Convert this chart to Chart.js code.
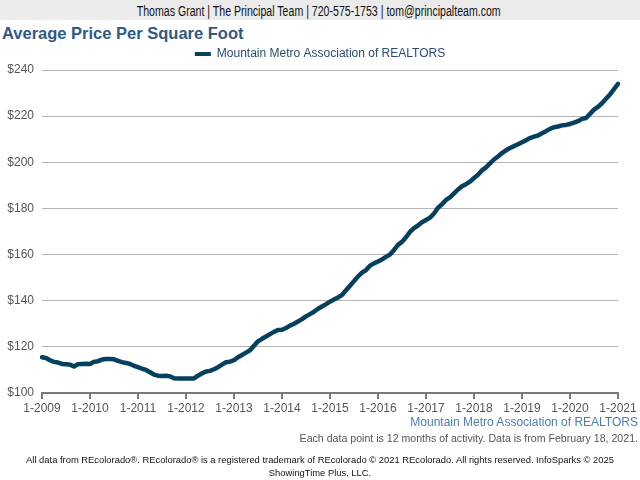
<!DOCTYPE html>
<html>
<head>
<meta charset="utf-8">
<script src="https://cdn.jsdelivr.net/npm/chart.js@4.4.1/dist/chart.umd.min.js"></script>
<style>
  body { margin: 0; width: 640px; height: 480px; background: #fff; font-family: "Liberation Sans", Arial, sans-serif; position: relative; overflow: hidden; }
  .txt { position: absolute; white-space: nowrap; }
  #header { left: 0; top: 0; width: 640px; height: 20px; background: #ebebeb; text-align: center; font-size: 14px; line-height: 22px; color: #111; }
  #header span { display: inline-block; transform: scaleX(0.756); transform-origin: 50% 50%; margin-left: -3px; }
  #title { left: 2px; top: 24px; font-size: 16.5px; font-weight: bold; color: #2f5a86; }
  #source { right: 2px; top: 415px; font-size: 12px; color: #4f7db0; }
  #note { right: 2px; top: 432px; font-size: 10.6px; color: #555; }
  #footer { left: 0; width: 640px; top: 453px; text-align: center; font-size: 9.4px; line-height: 13px; color: #111; }
  #wrap { position: absolute; left: 0; top: 41px; width: 640px; height: 379px; }
</style>
</head>
<body>
<div id="header" class="txt"><span>Thomas Grant | The Principal Team | 720-575-1753 | tom@principalteam.com</span></div>
<div id="title" class="txt">Average Price Per Square Foot</div>
<div id="wrap"><canvas id="grafico" width="640" height="379"></canvas></div>
<div id="source" class="txt">Mountain Metro Association of REALTORS</div>
<div id="note" class="txt">Each data point is 12 months of activity. Data is from February 18, 2021.</div>
<div id="footer" class="txt">All data from REcolorado®. REcolorado® is a registered trademark of REcolorado © 2021 REcolorado. All rights reserved. InfoSparks © 2025<br>ShowingTime Plus, LLC.</div>
<script>
// Dados: um ponto por mês, de 1-2009 até 1-2021
const serieNome = 'Mountain Metro Association of REALTORS';
const anoInicial = 2009;
const precoPorPe = [
    115.5, 115.2, 114.2, 113.5, 113.2, 112.6, 112.5, 112.3, 111.5, 112.5, 112.6, 112.7,
    112.6, 113.5, 113.8, 114.5, 114.7, 114.7, 114.6, 113.9, 113.4, 113.0, 112.6, 111.8,
    111.2, 110.5, 110.0, 109.0, 108.0, 107.5, 107.4, 107.5, 107.2, 106.4, 106.3, 106.3,
    106.3, 106.3, 106.3, 107.5, 108.5, 109.3, 109.6, 110.3, 111.2, 112.3, 113.3, 113.6,
    114.2, 115.5, 116.5, 117.5, 118.5, 120.5, 122.4, 123.5, 124.5, 125.5, 126.5, 127.3,
    127.4, 128.2, 129.2, 130.0, 131.0, 132.0, 133.2, 134.2, 135.2, 136.5, 137.5, 138.5,
    139.6, 140.5, 141.4, 142.5, 144.5, 146.5, 148.5, 150.5, 152.2, 153.3, 155.2, 156.2,
    157.0, 157.9, 159.0, 160.0, 162.0, 164.2, 165.5, 167.5, 169.8, 171.5, 172.6, 174.0,
    175.0, 176.0, 177.8, 180.3, 181.8, 183.7, 184.8, 186.5, 188.2, 189.6, 190.5, 191.6,
    193.2, 194.6, 196.5, 197.8, 199.5, 201.2, 202.5, 204.0, 205.2, 206.2, 207.0, 207.8,
    208.7, 209.6, 210.5, 211.1, 211.6, 212.6, 213.5, 214.5, 215.2, 215.5, 216.0, 216.2,
    216.6, 217.2, 217.8, 218.8, 219.2, 221.0, 222.8, 224.0, 225.6, 227.5, 229.4, 231.7,
    234.0
];
const yMin = 100;
const yMax = 240;
const yPasso = 20;

// rótulos mês-ano para cada ponto
const meses = precoPorPe.map((v, i) => (i % 12 + 1) + '-' + (anoInicial + Math.floor(i / 12)));

const corLinha = '#05405f';

new Chart(document.getElementById('grafico').getContext('2d'), {
    type: 'line',
    data: {
        labels: meses,
        datasets: [{
            label: serieNome,
            data: precoPorPe,
            borderColor: corLinha,
            backgroundColor: corLinha,
            borderWidth: 4.5,
            pointRadius: 0,
            tension: 0,
            borderJoinStyle: 'round',
            borderCapStyle: 'round'
        }]
    },
    options: {
        responsive: false,
        animation: false,
        plugins: {
            legend: {
                labels: {
                    boxWidth: 16,
                    boxHeight: 4,
                    padding: 7,
                    color: '#2b4c72',
                    font: { family: 'Liberation Sans', size: 12 },
                    // caixinha da legenda sem contorno (linha fina)
                    generateLabels: function (chart) {
                        const itens = Chart.defaults.plugins.legend.labels.generateLabels(chart);
                        itens.forEach((it) => { it.lineWidth = 0; it.strokeStyle = 'rgba(0,0,0,0)'; });
                        return itens;
                    }
                }
            },
            tooltip: { enabled: false }
        },
        scales: {
            x: {
                offset: false,
                border: { display: true, color: '#7a7a7a', width: 2 },
                grid: { drawOnChartArea: false, color: '#7a7a7a', lineWidth: 2, tickLength: 6 },
                ticks: {
                    autoSkip: false,
                    maxRotation: 0,
                    padding: 2,
                    color: '#555',
                    font: { family: 'Liberation Sans', size: 12 },
                    callback: function (valor, indice) {
                        return indice % 12 === 0 ? meses[indice] : null;
                    }
                },
                afterFit: function (escala) { escala.height = 27; }
            },
            y: {
                min: yMin,
                max: yMax,
                border: { display: false },
                grid: { color: '#b4b4b4', lineWidth: 1, drawTicks: false },
                ticks: {
                    stepSize: yPasso,
                    padding: 8,
                    color: '#555',
                    font: { family: 'Liberation Sans', size: 12 },
                    callback: (v) => '$' + v
                },
                afterFit: function (escala) { escala.width = 42; }
            },
            // eixo vazio à direita só para reservar espaço
            yDireita: {
                position: 'right',
                min: yMin,
                max: yMax,
                border: { display: false },
                grid: { display: false },
                ticks: { display: false },
                afterFit: function (escala) { escala.width = 22; }
            }
        }
    }
});
</script>
</body>
</html>
